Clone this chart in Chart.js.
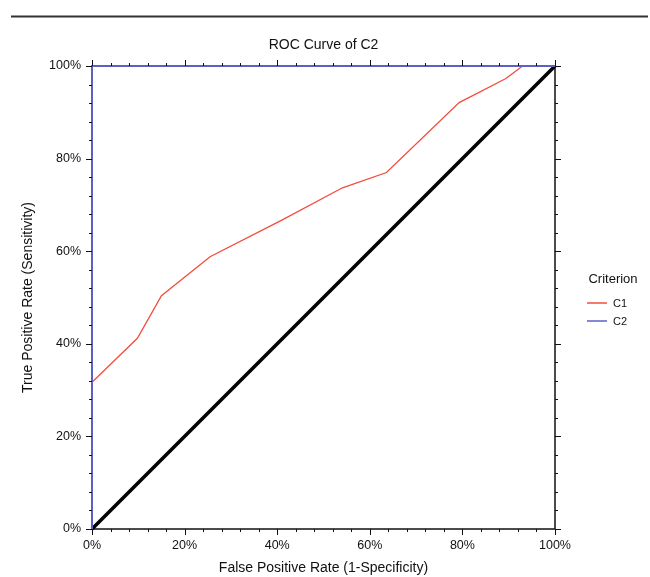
<!DOCTYPE html>
<html>
<head>
<meta charset="utf-8">
<script src="https://cdn.jsdelivr.net/npm/chart.js@4.4.0/dist/chart.umd.min.js"></script>
<style>
  html, body { margin: 0; padding: 0; background: #fff; }
  #wrap { width: 650px; height: 577px; }
</style>
</head>
<body>
<div id="wrap"><canvas id="c" width="650" height="577"></canvas></div>
<script>
// ---- Data ----
const c1FPR = [0.000, 0.098, 0.150, 0.255, 0.410, 0.541, 0.636, 0.793, 0.894, 0.930];
const c1TPR = [0.317, 0.412, 0.504, 0.588, 0.667, 0.737, 0.770, 0.921, 0.973, 1.000];
const c2FPR = [0, 0, 1];
const c2TPR = [0, 1, 1];
const refFPR = [0, 1];
const refTPR = [0, 1];
const seriesNames = ['C1', 'C2'];
const axisTicks = [0, 0.2, 0.4, 0.6, 0.8, 1.0];
const minorStep = 0.04;

const toPts = (xs, ys) => xs.map((x, i) => ({x: x, y: ys[i]}));
const RED = 'rgb(242,76,62)';
const BLUE = 'rgb(92,98,196)';
const FONT = '"Liberation Sans", Arial, Helvetica, sans-serif';

const pct = v => Math.round(v * 100) + '%';

const framePlugin = {
  id: 'frame',
  beforeDatasetsDraw(chart) {
    const {ctx, chartArea: a} = chart;
    ctx.save();
    ctx.strokeStyle = '#111';
    ctx.lineWidth = 1.5;
    ctx.beginPath();
    ctx.moveTo(a.left, a.bottom); ctx.lineTo(a.right, a.bottom); ctx.lineTo(a.right, a.top);
    ctx.stroke();
    ctx.restore();
  },
  afterDatasetsDraw(chart) {
    const {ctx, chartArea: a, scales} = chart;
    const xs = scales.x, ys = scales.y;
    ctx.save();
    ctx.strokeStyle = '#111';
    ctx.lineWidth = 1;
    const n = Math.round(1 / minorStep);
    for (let i = 0; i <= n; i++) {
      const v = i * minorStep;
      const major = axisTicks.some(t => Math.abs(t - v) < 1e-6);
      const len = major ? 6 : 3;
      const px = Math.round(xs.getPixelForValue(v)) + 0.5;
      const py = Math.round(ys.getPixelForValue(v)) + 0.5;
      ctx.beginPath();
      ctx.moveTo(px, a.bottom); ctx.lineTo(px, a.bottom + len);
      ctx.moveTo(px, a.top); ctx.lineTo(px, a.top - len);
      ctx.moveTo(a.left, py); ctx.lineTo(a.left - len, py);
      ctx.moveTo(a.right, py); ctx.lineTo(a.right + len, py);
      ctx.stroke();
    }
    ctx.restore();
  },
  afterDraw(chart) {
    const {ctx} = chart;
    ctx.save();
    ctx.strokeStyle = '#333';
    ctx.lineWidth = 2;
    ctx.beginPath();
    ctx.moveTo(11, 16.5); ctx.lineTo(648, 16.5);
    ctx.stroke();
    ctx.fillStyle = '#111';
    ctx.font = '13px ' + FONT;
    ctx.textAlign = 'center';
    ctx.textBaseline = 'middle';
    ctx.fillText('Criterion', 613, 279);
    const cols = [RED, BLUE];
    const ys = [303, 321];
    ctx.font = '11px ' + FONT;
    ctx.textAlign = 'left';
    seriesNames.forEach((name, i) => {
      ctx.strokeStyle = cols[i];
      ctx.lineWidth = 1.5;
      ctx.beginPath();
      ctx.moveTo(587, ys[i]); ctx.lineTo(607, ys[i]);
      ctx.stroke();
      ctx.fillStyle = '#111';
      ctx.fillText(name, 613, ys[i] + 0.5);
    });
    ctx.restore();
  }
};

new Chart(document.getElementById('c'), {
  type: 'scatter',
  data: {
    datasets: [
      { label: seriesNames[0], data: toPts(c1FPR, c1TPR), showLine: true, borderColor: RED,
        borderWidth: 1.3, pointRadius: 0, tension: 0, clip: false, order: 2 },
      { label: seriesNames[1], data: toPts(c2FPR, c2TPR), showLine: true, borderColor: BLUE,
        borderWidth: 2, pointRadius: 0, tension: 0, clip: false, order: 1 },
      { label: 'ref', data: toPts(refFPR, refTPR), showLine: true, borderColor: '#000',
        borderWidth: 3.5, pointRadius: 0, tension: 0, clip: false, order: 3 }
    ]
  },
  options: {
    responsive: false,
    animation: false,
    layout: { padding: 0 },
    plugins: {
      legend: { display: false },
      tooltip: { enabled: false },
      title: {
        display: true,
        fullSize: false,
        text: 'ROC Curve of C2',
        color: '#111',
        font: { family: FONT, size: 14, weight: 'normal' },
        padding: { top: 37, bottom: 12.2 }
      }
    },
    scales: {
      x: {
        type: 'linear', position: 'bottom', min: 0, max: 1,
        afterFit(s) { s.height = 48; },
        afterBuildTicks(s) { s.ticks = axisTicks.map(v => ({value: v})); },
        grid: { display: false, drawTicks: false },
        border: { display: false },
        ticks: { color: '#111', padding: 9, maxRotation: 0, font: { family: FONT, size: 12.5 }, callback: v => pct(v) },
        title: { display: true, text: 'False Positive Rate (1-Specificity)', color: '#111',
          font: { family: FONT, size: 14 }, padding: { top: 0, bottom: 0.6 } }
      },
      y: {
        type: 'linear', position: 'left', min: 0, max: 1,
        afterFit(s) { s.width = 92; },
        afterBuildTicks(s) { s.ticks = axisTicks.map(v => ({value: v})); },
        grid: { display: false, drawTicks: false },
        border: { display: false },
        ticks: { color: '#111', padding: 11, font: { family: FONT, size: 12.5 }, callback: v => pct(v) },
        title: { display: true, text: 'True Positive Rate (Sensitivity)', color: '#111',
          font: { family: FONT, size: 14 }, padding: { top: 20, bottom: 0 } }
      },
      y2: {
        type: 'linear', position: 'right', min: 0, max: 1,
        afterFit(s) { s.width = 95; },
        grid: { display: false, drawTicks: false },
        border: { display: false },
        ticks: { display: false }
      }
    }
  },
  plugins: [framePlugin]
});
</script>
</body>
</html>
